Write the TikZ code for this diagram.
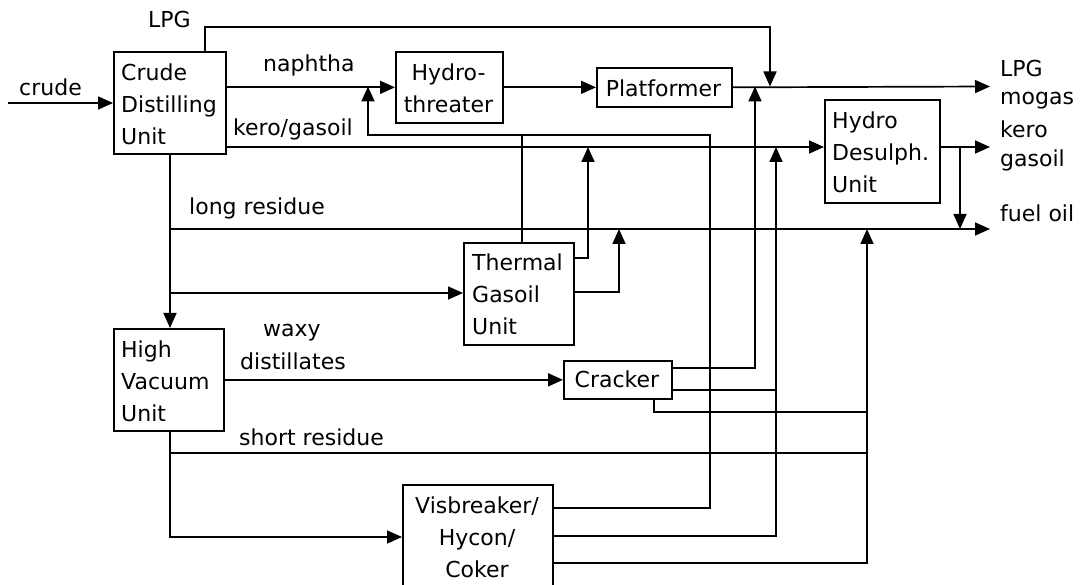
\documentclass[tikz,border=0pt]{standalone}
\usepackage{fontspec}
\setmainfont{DejaVu Sans}
\usetikzlibrary{arrows.meta}
\begin{document}
\begin{tikzpicture}[x=1pt,y=-1pt,
  txt/.style={inner sep=0pt, font=\fontsize{22}{32}\selectfont},
  lbl/.style={txt, anchor=base west},
  box/.style={draw, line width=1.7pt, anchor=north west, inner sep=0pt},
  flow/.style={line width=1.7pt},
  arr/.style={flow, -{Triangle[length=15pt,width=13pt]}}]
\useasboundingbox (0,0) rectangle (1082,585);
\clip (0,0) rectangle (1082,585);

% ---------- boxes ----------
\node[box, minimum width=112pt, minimum height=102pt] (cdu) at (113,51) {};
\node[box, minimum width=107pt, minimum height=71pt]  (ht)  at (395,51) {};
\node[box, minimum width=135pt, minimum height=39pt]  (plat) at (596,67) {};
\node[box, minimum width=115pt, minimum height=103pt] (hds) at (824,99) {};
\node[box, minimum width=110pt, minimum height=102pt] (tgu) at (463,242) {};
\node[box, minimum width=110pt, minimum height=102pt] (hvu) at (113,328) {};
\node[box, minimum width=108pt, minimum height=38pt]  (crk) at (563,360) {};
\node[box, minimum width=150pt, minimum height=130pt] (vis) at (402,484) {};

% ---------- box texts ----------
\node[txt, anchor=north west, align=left]   (cdut) at (121,63.3) {Crude\\Distilling\\Unit};
\node[txt, anchor=north, align=center]      (htt)  at (448.5,63.3) {Hydro-\\threater};
\node[txt, anchor=base]                     (platt) at (663.5,97) {Platformer};
\node[txt, anchor=north west, align=left]   (hdst) at (832,111.3) {Hydro\\Desulph.\\Unit};
\node[txt, anchor=north west, align=left]   (tgut) at (472,253.3) {Thermal\\Gasoil\\Unit};
\node[txt, anchor=north west, align=left]   (hvut) at (121,340.3) {High\\Vacuum\\Unit};
\node[txt, anchor=base]                     (crkt) at (617,388) {Cracker};
\node[txt, anchor=north, align=center]      (vist) at (477,496.3) {Visbreaker/\\Hycon/\\Coker};

% ---------- free ends and junctions ----------
\coordinate (crudein) at (8,103);
\coordinate (lpgtop) at (205,27);
\coordinate (jlpg) at (770,86.5);
\coordinate (jht) at (368,86.5);
\coordinate (outA) at (990,86.5);
\coordinate (kero) at (0,147);
\coordinate (outB) at (990,147);
\coordinate (jfo) at (960,229);
\coordinate (lr) at (170,229);
\coordinate (outC) at (990,229);
\coordinate (tgin) at (170,293);
\coordinate (rec) at (522,135);
\coordinate (v1) at (710,508);
\coordinate (t1) at (588,258);
\coordinate (t2) at (619,292);
\coordinate (c1) at (755,368);
\coordinate (c2) at (776,390);
\coordinate (v2) at (776,536);
\coordinate (c3) at (654,412);
\coordinate (j3) at (867,412);
\coordinate (sr) at (170,453);
\coordinate (v3) at (867,563);
\coordinate (hv) at (170,537);

% ---------- connectors ----------
\draw[arr] (crudein) -- (crudein -| cdu.west);
\draw[arr] (cdu.north -| lpgtop) -- (lpgtop) -| (jlpg);
\draw[arr] (cdu.east |- ht.west) -- (ht.west);
\draw[arr] (ht.east) -- (plat.west);
\draw[arr] (plat.east) -- (outA);
\draw[arr] (cdu.east |- kero) -- (hds.west |- kero);
\draw[arr] (hds.east |- kero) -- (outB);
\draw[arr] (jfo |- kero) -- (jfo);
\draw[arr] (cdu.south -| lr) -- (hvu.north -| lr);
\draw[arr] (lr) -- (outC);
\draw[arr] (tgin) -- (tgin -| tgu.west);
\draw[flow] (tgu.north -| rec) -- (rec);
\draw[arr] (vis.east |- v1) -- (v1) -- (v1 |- rec) -- (jht |- rec) -- (jht);
\draw[arr] (tgu.east |- t1) -- (t1) -- (t1 |- kero);
\draw[arr] (tgu.east |- t2) -- (t2) -- (t2 |- lr);
\draw[arr] (hvu.east |- crk.west) -- (crk.west);
\draw[arr] (crk.east |- c1) -- (c1) -- (c1 |- outA);
\draw[flow] (crk.east |- c2) -- (c2);
\draw[arr] (vis.east |- v2) -- (v2) -- (v2 |- kero);
\draw[flow] (crk.south -| c3) -- (c3) -- (j3);
\draw[flow] (sr) -- (sr -| j3);
\draw[arr] (vis.east |- v3) -- (v3) -- (v3 |- lr);
\draw[arr] (hvu.south -| hv) -- (hv) -- (hv -| vis.west);

% ---------- labels ----------
\node[lbl] (lcrude) at (19,96) {crude};
\node[lbl] (llpg) at (148,28) {LPG};
\node[lbl] (lnaph) at (263,72) {naphtha};
\node[lbl] (lkero) at (233,136) {kero/gasoil};
\node[lbl] (llong) at (189,215) {long residue};
\node[lbl] (lwaxy) at (263,337) {waxy};
\node[lbl] (ldist) at (240,370) {distillates};
\node[lbl] (lshort) at (239,445) {short residue};
\node[lbl] (oLPG) at (1000,77) {LPG};
\node[lbl] (omogas) at (1000,105) {mogas};
\node[lbl] (okero) at (1000,138) {kero};
\node[lbl] (ogasoil) at (1000,167) {gasoil};
\node[lbl] (ofuel) at (1000,222) {fuel oil};
\end{tikzpicture}
\end{document}
